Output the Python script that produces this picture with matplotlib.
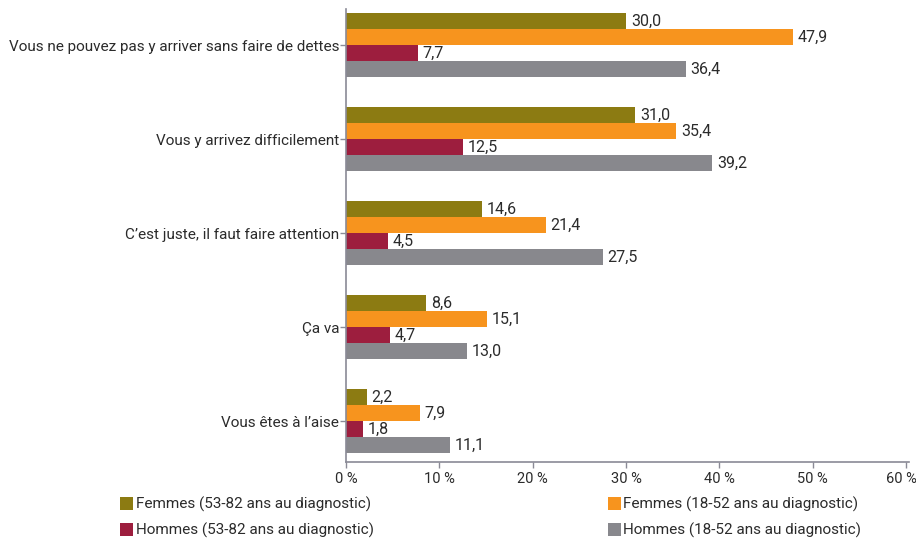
import numpy as np
import matplotlib
matplotlib.use("Agg")
import matplotlib.pyplot as plt
from matplotlib.patches import Patch

plt.rcParams['font.family'] = ['Roboto', 'DejaVu Sans']

categories = [
    "Vous ne pouvez pas y arriver sans faire de dettes",
    "Vous y arrivez difficilement",
    "C\u2019est juste, il faut faire attention",
    "\u00c7a va",
    "Vous \u00eates \u00e0 l\u2019aise",
]
series_names = [
    "Femmes (53-82 ans au diagnostic)",
    "Femmes (18-52 ans au diagnostic)",
    "Hommes (53-82 ans au diagnostic)",
    "Hommes (18-52 ans au diagnostic)",
]
femmes_53_82 = [30.0, 31.0, 14.6, 8.6, 2.2]
femmes_18_52 = [47.9, 35.4, 21.4, 15.1, 7.9]
hommes_53_82 = [7.7, 12.5, 4.5, 4.7, 1.8]
hommes_18_52 = [36.4, 39.2, 27.5, 13.0, 11.1]
x_ticks = [0, 10, 20, 30, 40, 50, 60]

colors = ["#8c7b12", "#f7941e", "#9d1e3e", "#88888d"]
series = [femmes_53_82, femmes_18_52, hommes_53_82, hommes_18_52]

fig = plt.figure(figsize=(9.16, 5.4), dpi=100)
ax = fig.add_axes([0.3777, 0.1444, 0.6145, 0.8389])

y = np.arange(len(categories))
h = 0.17
text_color = "#2b2b2b"
fs = 11

for i, (vals, col) in enumerate(zip(series, colors)):
    pos = y + (i - 1.5) * h
    bars = ax.barh(pos, vals, height=h, color=col)
    for b, v in zip(bars, vals):
        ax.annotate(f"{v:.1f}".replace(".", ","),
                    (v, b.get_y() + b.get_height() / 2),
                    xytext=(3.5, 0), textcoords="offset points",
                    va="center", ha="left", fontsize=11.5, color=text_color)

ax.set_xlim(0, 60.3)
ax.set_ylim(4.436, -0.383)
ax.set_yticks(y)
ax.set_yticklabels(categories, fontsize=fs, color=text_color)
ax.set_xticks(x_ticks)
tick_labels = [f"{t} %" for t in x_ticks]
# last label drawn by hand a little to the left so it stays inside the figure
ax.set_xticklabels(tick_labels[:-1] + [""], fontsize=10.5, color=text_color)
ax.annotate(tick_labels[-1], xy=(x_ticks[-1], 0), xycoords=("data", "axes fraction"),
            xytext=(-3, -7), textcoords="offset points", ha="center", va="top",
            fontsize=10.5, color=text_color)

for s in ["top", "right"]:
    ax.spines[s].set_visible(False)
for s in ["left", "bottom"]:
    ax.spines[s].set_color("#8a8a96")
    ax.spines[s].set_linewidth(1.2)
ax.tick_params(axis="both", colors="#8a8a96", length=4, width=1)
ax.tick_params(axis="x", labelcolor=text_color, pad=3)
ax.tick_params(axis="y", labelcolor=text_color, pad=1)

handles = [Patch(facecolor=c) for c in colors]
leg_kw = dict(frameon=False, fontsize=fs, handlelength=0.85, handleheight=0.85,
              handletextpad=0.15, labelspacing=0.7, borderpad=0, labelcolor=text_color)
leg1 = fig.legend([handles[0], handles[2]], [series_names[0], series_names[2]],
                  loc="upper left", bbox_to_anchor=(0.123, 0.094), **leg_kw)
leg2 = fig.legend([handles[1], handles[3]], [series_names[1], series_names[3]],
                  loc="upper left", bbox_to_anchor=(0.655, 0.094), **leg_kw)

fig.savefig("out.png", dpi=100)
